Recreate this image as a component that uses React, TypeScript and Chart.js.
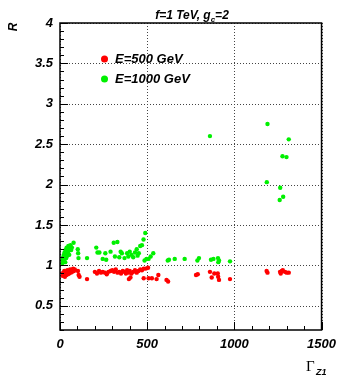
import { useEffect, useRef } from 'react';
import { Chart, registerables } from 'chart.js';
Chart.register(...registerables);

const seriesNames = ['E=500 GeV', 'E=1000 GeV'];
const seriesColors = ['#ff0000', '#00f000'];

const redX = [15, 18, 22, 25, 28, 30, 33, 36, 40, 42, 45, 48, 52, 55, 58, 62, 65, 70, 75, 80, 85,
  103, 107, 112, 155,
  200, 212, 224, 235, 245, 258, 268, 278, 290, 300, 310, 320, 330, 340, 350, 360, 370, 378, 385, 392, 400, 410, 420, 430, 440, 450, 460, 470, 480, 492, 505,
  395, 404, 480, 508, 527, 554, 564, 611, 620, 780, 790, 860, 870, 885, 905, 907, 912, 975,
  1185, 1190, 1262, 1266, 1272, 1278, 1290, 1300, 1312];
const redY = [0.87, 0.91, 0.89, 0.93, 0.86, 0.90, 0.92, 0.88, 0.91, 0.94, 0.89, 0.92, 0.90, 0.93, 0.95, 0.91, 0.94, 0.92, 0.96, 0.93, 0.95,
  0.93, 0.88, 0.86, 0.83,
  0.92, 0.90, 0.93, 0.91, 0.92, 0.91, 0.89, 0.92, 0.93, 0.94, 0.92, 0.95, 0.91, 0.92, 0.90, 0.93, 0.92, 0.90, 0.94, 0.91, 0.93, 0.90, 0.92, 0.94, 0.91, 0.93, 0.95, 0.94, 0.96, 0.96, 0.97,
  0.83, 0.85, 0.84, 0.84, 0.84, 0.83, 0.88, 0.82, 0.80, 0.88, 0.89, 0.92, 0.85, 0.90, 0.90, 0.86, 0.82, 0.83,
  0.93, 0.91, 0.92, 0.90, 0.93, 0.94, 0.92, 0.91, 0.91];

const greenX = [14, 16, 18, 20, 22, 24, 26, 28, 30, 32, 34, 36, 38, 40, 42, 44, 46, 48, 50, 53, 56, 60, 64, 68, 78,
  102, 104, 106, 155, 208, 215, 226, 245, 260, 265, 290, 308, 315, 329, 340, 348, 355, 370, 385, 392, 400, 410, 420, 430, 440, 445, 452, 460, 470, 479, 489,
  485, 496, 508, 520, 535, 618, 625, 658, 715, 788, 797, 860, 866, 880, 906, 908, 912, 975,
  1186, 1190, 1260, 1263, 1276, 1280, 1299, 1312];
const greenY = [1.03, 1.07, 1.10, 1.05, 1.13, 1.08, 1.16, 1.11, 1.04, 1.19, 1.14, 1.09, 1.22, 1.17, 1.12, 1.20, 1.15, 1.24, 1.18, 1.13, 1.21, 1.25, 1.19, 1.22, 1.28,
  1.20, 1.15, 1.09, 1.09, 1.22, 1.16, 1.16, 1.08, 1.15, 1.07, 1.17, 1.28, 1.11, 1.29, 1.10, 1.17, 1.15, 1.09, 1.15, 1.11, 1.17, 1.13, 1.10, 1.16, 1.20, 1.12, 1.15, 1.24, 1.25, 1.32, 1.40,
  1.06, 1.08, 1.08, 1.11, 1.15, 1.06, 1.07, 1.08, 1.08, 1.06, 1.09, 2.60, 1.07, 1.08, 1.09, 1.04, 1.06, 1.05,
  2.03, 2.75, 1.81, 1.96, 2.35, 1.85, 2.34, 2.56];

const xTicks = [0, 500, 1000, 1500];
const yTicks = [0.5, 1, 1.5, 2, 2.5, 3, 3.5, 4];
const xRange = [0, 1500];
const yRange = [0.2, 4];

const FONT = '"Liberation Sans", Arial, sans-serif';

const decor = {
  id: 'decor',
  beforeDatasetsDraw(chart: any) {
    const { ctx, chartArea: a, scales } = chart;
    const x = scales.x, y = scales.y;
    ctx.save();
    ctx.strokeStyle = '#444';
    ctx.lineWidth = 1;
    ctx.setLineDash([1, 2]);
    ctx.beginPath();
    xTicks.forEach((v) => {
      const px = Math.round(x.getPixelForValue(v)) + 0.5;
      ctx.moveTo(px, a.top);
      ctx.lineTo(px, a.bottom);
    });
    yTicks.forEach((v) => {
      const py = Math.round(y.getPixelForValue(v)) + 0.5;
      ctx.moveTo(a.left, py);
      ctx.lineTo(a.right, py);
    });
    ctx.stroke();
    ctx.restore();
  },
  afterDraw(chart: any) {
    const { ctx, chartArea: a, scales } = chart;
    const x = scales.x, y = scales.y;
    ctx.save();
    ctx.strokeStyle = '#000';
    ctx.lineWidth = 1;
    ctx.beginPath();
    for (let i = 2; i <= 40; i++) {
      const v = i / 10;
      const py = Math.round(y.getPixelForValue(v)) + 0.5;
      const len = i % 5 === 0 ? 8 : 4;
      ctx.moveTo(a.left, py);
      ctx.lineTo(a.left + len, py);
    }
    for (let v = 0; v <= 1500; v += 100) {
      const px = Math.round(x.getPixelForValue(v)) + 0.5;
      const len = v % 500 === 0 ? 8 : 4;
      ctx.moveTo(px, a.bottom);
      ctx.lineTo(px, a.bottom - len);
    }
    ctx.stroke();
    ctx.lineWidth = 1.5;
    ctx.strokeRect(a.left, a.top, a.right - a.left, a.bottom - a.top);

    ctx.fillStyle = '#000';
    // title
    const tf = 'bold italic 12px ' + FONT;
    const sf = 'bold italic 8px ' + FONT;
    ctx.font = tf;
    const p1 = 'f=1 TeV, g';
    const p3 = '=2';
    const w1 = ctx.measureText(p1).width;
    const w3 = ctx.measureText(p3).width;
    ctx.font = sf;
    const w2 = ctx.measureText('c').width;
    const tx = 192 - (w1 + w2 + w3) / 2;
    ctx.textBaseline = 'alphabetic';
    ctx.textAlign = 'left';
    ctx.font = tf;
    ctx.fillText(p1, tx, 19);
    ctx.font = sf;
    ctx.fillText('c', tx + w1, 22);
    ctx.font = tf;
    ctx.fillText(p3, tx + w1 + w2, 19);

    // y title
    ctx.save();
    ctx.translate(13.5, 27);
    ctx.rotate(-Math.PI / 2);
    ctx.font = 'bold italic 12px ' + FONT;
    ctx.textAlign = 'center';
    ctx.textBaseline = 'middle';
    ctx.fillText('R', 0, 0);
    ctx.restore();

    // x title
    ctx.textAlign = 'left';
    ctx.textBaseline = 'alphabetic';
    ctx.font = '15px "Liberation Serif", "Times New Roman", serif';
    ctx.fillText('\u0393', 306, 371);
    ctx.font = 'bold italic 9px ' + FONT;
    ctx.fillText('Z1', 316, 375);

    // legend
    ctx.font = 'bold italic 13px ' + FONT;
    ctx.textBaseline = 'middle';
    seriesNames.forEach((n, i) => {
      const cy = 59 + i * 20;
      ctx.fillStyle = seriesColors[i];
      ctx.beginPath();
      ctx.arc(104.5, cy, 3.5, 0, Math.PI * 2);
      ctx.fill();
      ctx.fillStyle = '#000';
      ctx.fillText(n, 115, cy);
    });
    ctx.restore();
  },
};

export default function App() {
  const ref = useRef<HTMLCanvasElement>(null);
  useEffect(() => {
    const tickFont = { family: FONT, size: 13, weight: 'bold' as const, style: 'italic' as const };
    const chart = new Chart(ref.current!, {
      type: 'scatter',
      data: {
        datasets: [
          {
            label: seriesNames[0],
            data: redX.map((v, i) => ({ x: v, y: redY[i] })),
            backgroundColor: seriesColors[0],
            borderWidth: 0,
            pointRadius: 2.2,
          },
          {
            label: seriesNames[1],
            data: greenX.map((v, i) => ({ x: v, y: greenY[i] })),
            backgroundColor: seriesColors[1],
            borderWidth: 0,
            pointRadius: 2.2,
          },
        ],
      },
      options: {
        animation: false,
        responsive: true,
        maintainAspectRatio: false,
        layout: { padding: { left: 0, right: 17, top: 23, bottom: 0 } },
        plugins: { legend: { display: false }, title: { display: false }, tooltip: { enabled: false } },
        scales: {
          x: {
            type: 'linear',
            min: xRange[0],
            max: xRange[1],
            afterBuildTicks: (s: any) => { s.ticks = xTicks.map((v) => ({ value: v })); },
            afterFit: (s: any) => { s.height = 45; },
            grid: { display: false, drawTicks: false },
            border: { display: false },
            ticks: { font: tickFont, color: '#000', padding: 7, maxRotation: 0, callback: (v: any) => String(v) },
          },
          y: {
            type: 'linear',
            min: yRange[0],
            max: yRange[1],
            afterBuildTicks: (s: any) => { s.ticks = yTicks.map((v) => ({ value: v })); },
            afterFit: (s: any) => { s.width = 60; },
            grid: { display: false, drawTicks: false },
            border: { display: false },
            ticks: { font: tickFont, color: '#000', padding: 7, callback: (v: any) => String(v) },
          },
        },
      },
      plugins: [decor],
    });
    return () => chart.destroy();
  }, []);
  return (
    <div style={{ position: 'fixed', left: 0, top: 0, width: 343, height: 375, background: '#fff' }}>
      <canvas ref={ref} />
    </div>
  );
}
